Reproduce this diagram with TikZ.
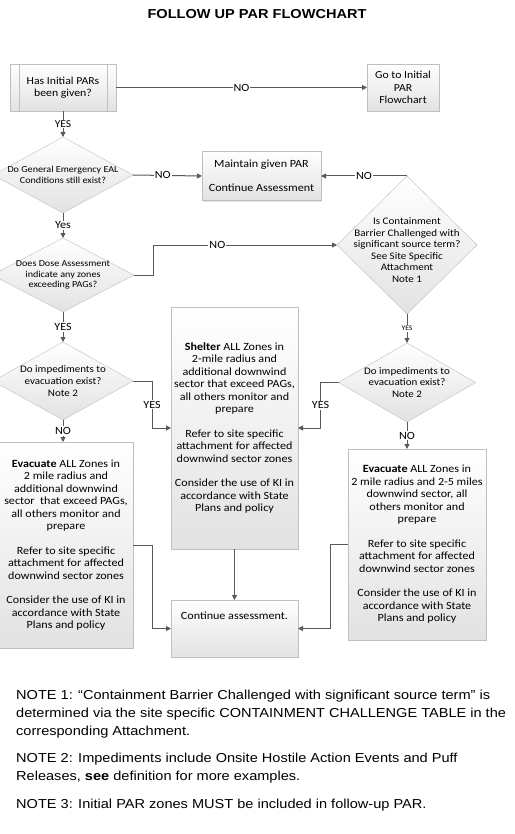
\documentclass[tikz,border=0pt]{standalone}
\usepackage{fontspec}
\usepackage{tikz}
\usetikzlibrary{shapes.geometric,arrows.meta,shadows}
\newfontfamily\flowfont[FakeStretch=1.1]{Carlito}
\newfontfamily\notefont[FakeStretch=1.12]{Liberation Sans}
\definecolor{boxline}{RGB}{191,191,191}
\definecolor{boxfill}{RGB}{226,226,226}
\definecolor{connline}{RGB}{89,89,89}

\tikzset{
  box/.style={draw=boxline, top color=white, bottom color=boxfill,
    drop shadow={shadow xshift=1.2pt, shadow yshift=-1.2pt, opacity=0.2},
    align=center, inner sep=0pt, outer sep=0pt,
    font=\flowfont\fontsize{11}{12.5}\selectfont},
  dia/.style={diamond, draw=boxline, top color=white, bottom color=boxfill,
    inner sep=0pt, outer sep=0pt},
  dtext/.style={align=center, font=\flowfont\fontsize{10}{11.6}\selectfont},
  conn/.style={draw=connline, line width=1pt, -{Triangle[length=5pt,width=5pt]}},
  lbl/.style={fill=white, inner sep=1pt, font=\flowfont\fontsize{11}{12}\selectfont},
}

\begin{document}
\begin{tikzpicture}[x=1pt,y=1pt,yscale=-1,xscale=1]
%set diagram left start at 0, and has height of 834
\useasboundingbox (0,0) rectangle (514,834);
\fill[white] (0,0) rectangle (514,834);

% Text Node
\node[font=\notefont\bfseries\fontsize{13}{15}\selectfont, anchor=base] (title) at (257,18.3) {FOLLOW UP PAR FLOWCHART};

%Shape: Predefined Process
\node[box, font=\flowfont\fontsize{10.7}{12.4}\selectfont, minimum width=106, minimum height=47] (given) at (63,87.5) {Has Initial PARs\\been given?};
\draw[boxline] ([xshift=9pt]given.north west) -- ([xshift=9pt]given.south west);
\draw[boxline] ([xshift=-9pt]given.north east) -- ([xshift=-9pt]given.south east);
%Shape: Rectangle
\node[box, font=\flowfont\fontsize{10.7}{12.5}\selectfont, minimum width=72, minimum height=47] (initial) at (403,87.5) {Go to Initial\\PAR\\Flowchart};

%Shape: Diamond
\node[dia, minimum width=140, minimum height=76,
  label={[dtext, font=\flowfont\fontsize{9.2}{11.6}\selectfont]center:{Do General Emergency EAL\\Conditions still exist?}}] (gecond) at (63,175) {};
%Shape: Rectangle
\node[box, minimum width=119, minimum height=49] (keep) at (261.5,176) {Maintain given PAR\\[11.5pt]Continue Assessment};
%Shape: Diamond
\node[dia, minimum width=140, minimum height=138,
  label={[dtext, yshift=-5pt]center:{Is Containment\\Barrier Challenged with\\significant source term?\\See Site Specific\\Attachment\\Note 1}}] (barrier) at (407,245) {};
%Shape: Diamond
\node[dia, minimum width=142, minimum height=74,
  label={[dtext, font=\flowfont\fontsize{9.2}{10.6}\selectfont]center:{Does Dose Assessment\\indicate any zones\\exceeding PAGs?}}] (dose) at (63,275) {};
%Shape: Diamond
\node[dia, minimum width=140, minimum height=78,
  label={[dtext]center:{Do impediments to\\evacuation exist?\\Note 2}}] (impl) at (63,381) {};
%Shape: Diamond
\node[dia, minimum width=137, minimum height=79,
  label={[dtext]center:{Do impediments to\\evacuation exist?\\Note 2}}] (impr) at (407,382.5) {};

%Shape: Rectangle
\node[box, minimum width=127, minimum height=242] (shelter) at (234.5,428) {\textbf{Shelter} ALL Zones in\\2-mile radius and\\additional downwind\\sector that exceed PAGs,\\all others monitor and\\prepare\\[12pt]Refer to site specific\\attachment for affected\\downwind sector zones\\[12pt]Consider the use of KI in\\accordance with State\\Plans and policy};
%Shape: Rectangle
\node[box, minimum width=134, minimum height=206] (evacl) at (66,545) {\textbf{Evacuate} ALL Zones in\\2 mile radius and\\additional downwind\\sector~ that exceed PAGs,\\all others monitor and\\prepare\\[12pt]Refer to site specific\\attachment for affected\\downwind sector zones\\[12pt]Consider the use of KI in\\accordance with State\\Plans and policy};
%Shape: Rectangle
\node[box, minimum width=138, minimum height=191] (evacr) at (417,544.5) {\textbf{Evacuate} ALL Zones in\\2 mile radius and 2-5 miles\\downwind sector, all\\others monitor and\\prepare\\[12pt]Refer to site specific\\attachment for affected\\downwind sector zones\\[12pt]Consider the use of KI in\\accordance with State\\Plans and policy};
%Shape: Rectangle
\node[box, minimum width=127, minimum height=57,
  label={[anchor=north, yshift=-8pt, font=\flowfont\fontsize{11}{12.5}\selectfont]north:Continue assessment.}] (next) at (234.5,628.5) {};

%Straight Lines
\draw[conn] (given.east) -- node[lbl]{NO} (initial.west);
\draw[conn] (given.south) -- node[lbl, font=\flowfont\fontsize{10.5}{12}\selectfont]{YES} (gecond.north);
\draw[conn] (gecond.east) -- node[lbl, pos=0.43]{NO} (keep.west);
\draw[conn] (barrier.north) -- node[lbl]{NO} (keep.east);
\draw[conn] (gecond.south) -- node[lbl]{Yes} (dose.north);
\draw[conn] (dose.east) -- ++(19,0) |- node[lbl, pos=0.675]{NO} (barrier.west);
\draw[conn] (dose.south) -- node[lbl]{YES} (impl.north);
\draw[conn] (impl.east) -- ++(19,0) |- node[lbl, pos=0.25]{YES} (shelter.west);
\draw[conn] (barrier.south) -- node[lbl, font=\flowfont\fontsize{7}{8}\selectfont]{YES} (impr.north);
\draw[conn] (impr.west) -- ++(-18,0) |- node[lbl, pos=0.25]{YES} (shelter.east);
\draw[conn] (impl.south) -- node[lbl]{NO} (impl.south |- evacl.north);
\draw[conn] (impr.south) -- node[lbl]{NO} (impr.south |- evacr.north);
\draw[conn] (shelter.south) -- (next.north);
\draw[conn] (evacl.east) -- ++(19,0) |- (next.west);
\draw[conn] (evacr.west) -- ++(-18,0) |- (next.east);

% Text Node
\node[anchor=north west, align=left, inner sep=0pt, font=\notefont\fontsize{13}{18}\selectfont] (notes) at (16,690) {NOTE 1: “Containment Barrier Challenged with significant source term” is\\determined via the site specific CONTAINMENT CHALLENGE TABLE in the\\corresponding Attachment.\\[9pt]NOTE 2: Impediments include Onsite Hostile Action Events and Puff\\Releases, \textbf{see} definition for more examples.\\[10pt]NOTE 3: Initial PAR zones MUST be included in follow-up PAR.};
\end{tikzpicture}
\end{document}
